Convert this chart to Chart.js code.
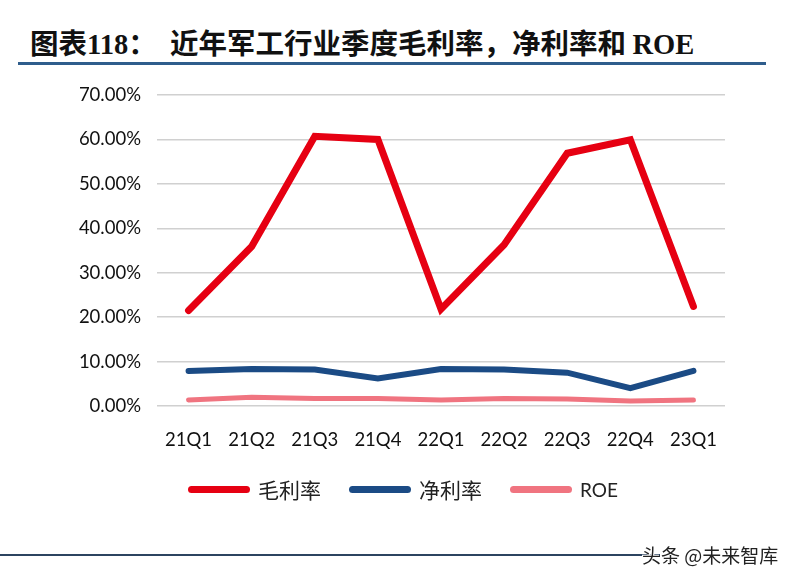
<!DOCTYPE html>
<html>
<head>
<meta charset="utf-8">
<script src="https://cdn.jsdelivr.net/npm/chart.js@4/dist/chart.umd.min.js"></script>
<style>
  html, body { margin: 0; padding: 0; background: #fff; }
  #wrap { position: relative; width: 800px; height: 583px; overflow: hidden; }
  #chart { position: absolute; left: 0; top: 0; }
  .title { position: absolute; top: 23px; font-family: "Noto Sans CJK SC", sans-serif; font-weight: bold; font-size: 28.5px; color: #111; white-space: nowrap; line-height: 38px; }
  .serif { font-family: "Liberation Serif", serif; }
  #topline { position: absolute; left: 18px; top: 62px; width: 748px; height: 3px; background: #2f5d8c; }
  #bottomline { position: absolute; left: 0; top: 554px; width: 660px; height: 2px; background: #2c4460; }
  #mark { position: absolute; left: 642px; top: 541px; font-family: "Noto Sans CJK SC", sans-serif; font-size: 19px; color: #222; text-shadow: 1px 1px 0 #fff, -1px -1px 0 #fff; white-space: nowrap; }
  #legend { position: absolute; top: 474px; left: 188px; font-family: "Noto Sans CJK SC", sans-serif; font-size: 21px; color: #222; display: flex; align-items: center; }
  .item { display: flex; align-items: center; margin-right: 28px; }
  .swatch { width: 62px; height: 7px; border-radius: 4px; margin-right: 8px; }
  .roe { font-family: Lato, sans-serif; font-size: 19px; }
</style>
</head>
<body>
<div id="wrap">
  <div class="title" style="left:30px">图表<span class="serif">118</span>：</div>
  <div class="title" style="left:170px">近年军工行业季度毛利率，净利率和 <span class="serif">ROE</span></div>
  <div id="topline"></div>
  <canvas id="chart" width="800" height="583"></canvas>
  <div id="legend"></div>
  <div id="bottomline"></div>
  <div id="mark">头条 @未来智库</div>
</div>
<script>
const quarters = ['21Q1', '21Q2', '21Q3', '21Q4', '22Q1', '22Q2', '22Q3', '22Q4', '23Q1'];
const grossMargin = [21.5, 35.9, 60.7, 60.0, 21.8, 36.3, 56.9, 59.9, 22.4];
const netMargin = [7.9, 8.3, 8.2, 6.2, 8.3, 8.2, 7.5, 4.0, 7.9];
const roe = [1.35, 1.95, 1.7, 1.7, 1.35, 1.7, 1.6, 1.1, 1.35];
const yTicks = [0, 10, 20, 30, 40, 50, 60, 70];

const seriesNames = ['毛利率', '净利率', 'ROE'];
const seriesColors = ['#e60012', '#1b4b85', '#f07480'];
const seriesWidths = [7, 6, 5];

const ctx = document.getElementById('chart').getContext('2d');

const chart = new Chart(ctx, {
  type: 'line',
  data: {
    labels: quarters,
    datasets: [grossMargin, netMargin, roe].map((d, i) => ({
      label: seriesNames[i],
      data: d,
      borderColor: seriesColors[i],
      backgroundColor: seriesColors[i],
      borderWidth: seriesWidths[i],
      pointRadius: 0,
      tension: 0,
      borderJoinStyle: 'miter',
      borderCapStyle: 'round'
    }))
  },
  options: {
    responsive: false,
    animation: false,
    layout: { padding: { top: 95, right: 75, bottom: 0, left: 0 } },
    plugins: { legend: { display: false }, tooltip: { enabled: false } },
    scales: {
      x: {
        offset: true,
        grid: { display: false },
        border: { display: false },
        ticks: { color: '#111', font: { family: 'Lato', size: 18.5 }, padding: 15, maxRotation: 0 },
        afterFit: scale => { scale.height = 177; }
      },
      y: {
        min: 0,
        max: 70,
        afterBuildTicks: scale => { scale.ticks = yTicks.map(v => ({ value: v })); },
        grid: { color: '#d0d0d0', lineWidth: 1.5, drawTicks: false },
        border: { display: false },
        ticks: {
          color: '#111',
          font: { family: 'Lato', size: 18.5 },
          padding: 16,
          callback: v => v.toFixed(2) + '%'
        },
        afterFit: scale => { scale.width = 157; }
      }
    }
  }
});

// legend built from the same series arrays
const legend = document.getElementById('legend');
seriesNames.forEach((name, i) => {
  const item = document.createElement('div');
  item.className = 'item';
  const sw = document.createElement('div');
  sw.className = 'swatch';
  sw.style.background = seriesColors[i];
  const txt = document.createElement('span');
  txt.textContent = name;
  if (name === 'ROE') txt.className = 'roe';
  item.append(sw, txt);
  legend.append(item);
});
</script>
</body>
</html>
